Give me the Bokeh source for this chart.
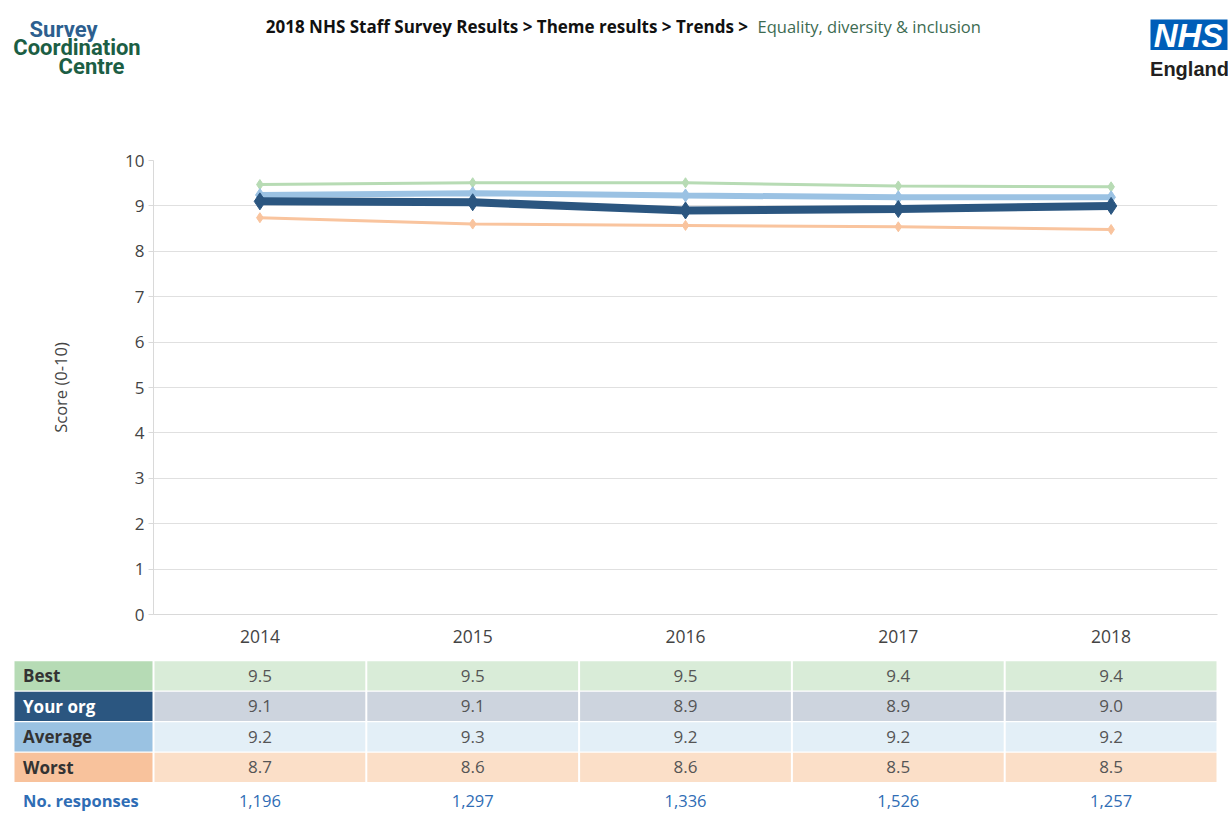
from bokeh.plotting import figure
from bokeh.models import Range1d, FactorRange, FixedTicker, ColumnDataSource
from bokeh.core.properties import value
from bokeh.embed import file_html
from bokeh.resources import INLINE

# ---------------- data ----------------
years = ["2014", "2015", "2016", "2017", "2018"]
best = [9.47, 9.51, 9.51, 9.44, 9.42]
your_org = [9.10, 9.08, 8.90, 8.93, 9.00]
average = [9.24, 9.28, 9.23, 9.19, 9.19]
worst = [8.74, 8.60, 8.57, 8.54, 8.48]
responses = [1196, 1297, 1336, 1526, 1257]
row_names = ["Best", "Your org", "Average", "Worst"]
y_ticks = [0, 1, 2, 3, 4, 5, 6, 7, 8, 9, 10]

FONT = "Open Sans"
W = 1228
H_HDR, H_CHART, H_TAB = 137, 512, 163

# ---------------- header ----------------
hdr = figure(width=W, height=H_HDR, x_range=Range1d(0, W), y_range=Range1d(H_HDR, 0),
             x_axis_type=None, y_axis_type=None, toolbar_location=None,
             output_backend="svg", min_border=0, outline_line_color=None)
hdr.grid.visible = False
logo_kw = dict(text_align="center", text_baseline="middle", text_font=value("Roboto"),
               text_font_style="bold", text_font_size="22px")
hdr.text(x=[63], y=[28.5], text=["Survey"], text_color="#2d5f8f", **logo_kw)
hdr.text(x=[76.5, 91], y=[47, 66], text=["Coordination", "Centre"], text_color="#1c5e44", **logo_kw)
hdr.text(x=[752], y=[26], text=["2018 NHS Staff Survey Results > Theme results > Trends > "],
         text_align="right", text_baseline="middle", text_font=value(FONT),
         text_font_style="bold", text_font_size="17px", text_color="#111111")
hdr.text(x=[757], y=[26], text=["Equality, diversity & inclusion"], text_align="left",
         text_baseline="middle", text_font=value(FONT), text_font_size="16.5px", text_color="#3d6b52")
hdr.quad(left=[1150], right=[1227], top=[19], bottom=[49.5], fill_color="#005eb8", line_color=None)
hdr.text(x=[1188], y=[35], text=["NHS"], text_align="center", text_baseline="middle",
         text_font=value("Liberation Sans"), text_font_style="bold italic", text_font_size="33px",
         text_color="white")
hdr.text(x=[1189], y=[68], text=["England"], text_align="center", text_baseline="middle",
         text_font=value("Liberation Sans"), text_font_style="bold", text_font_size="20px",
         text_color="#231f20")

# ---------------- chart ----------------
p = figure(width=W, height=H_CHART, x_range=FactorRange(*years), y_range=Range1d(0, 10),
           toolbar_location=None, output_backend="svg",
           min_border_left=153, min_border_right=W - 1217, min_border_top=160 - H_HDR,
           min_border_bottom=H_HDR + H_CHART - 614, outline_line_color=None)
p.xgrid.visible = False
p.ygrid.grid_line_color = "#e0e0e0"
p.yaxis.ticker = FixedTicker(ticks=y_ticks)
p.yaxis.axis_label = "Score (0-10)"
p.yaxis.axis_label_text_font = FONT
p.yaxis.axis_label_text_font_style = "normal"
p.yaxis.axis_label_text_font_size = "16.5px"
p.yaxis.axis_label_text_color = "#444444"
p.yaxis.axis_label_standoff = 50
p.yaxis.axis_line_color = "#d9d9d9"
p.yaxis.major_tick_line_color = "#d9d9d9"
p.yaxis.major_tick_out = 5
p.yaxis.major_tick_in = 0
p.yaxis.minor_tick_line_color = None
p.yaxis.major_label_standoff = 4
p.axis.major_label_text_font = FONT
p.axis.major_label_text_font_size = "17px"
p.axis.major_label_text_color = "#444444"
p.xaxis.major_label_text_font_size = "17.5px"
p.xaxis.axis_line_color = "#d9d9d9"
p.xaxis.major_tick_line_color = None
p.xaxis.major_tick_out = 0
p.xaxis.major_label_standoff = 15

series = [
    (best, "#b7dbb4", 3, 10),
    (worst, "#f9c49e", 3, 10),
    (average, "#9bc2e3", 6, 13),
    (your_org, "#2b5680", 8, 17),
]
for vals, col, lw, ms in series:
    p.line(years, vals, line_color=col, line_width=lw)
    p.scatter(years, vals, marker="diamond", size=ms, fill_color=col, line_color=col)

# ---------------- table ----------------
hw = 140 / 212.8
pitch = 30.55
top_px = H_HDR + H_CHART
y0 = 675.3
t = figure(width=W, height=H_TAB, x_range=Range1d(-0.5 - hw, 4.5),
           y_range=Range1d((top_px + H_TAB - y0) / pitch, (top_px - y0) / pitch),
           x_axis_type=None, y_axis_type=None, toolbar_location=None, output_backend="svg",
           min_border_left=13, min_border_right=W - 1217, min_border_top=0, min_border_bottom=0,
           outline_line_color=None)
t.grid.visible = False
head_cols = ["#b6dbb5", "#2b5680", "#9ac2e2", "#f8c29c"]
cell_cols = ["#d9ecd8", "#cdd4de", "#e3eff7", "#fbdfc8"]
lab_cols = ["#333333", "#ffffff", "#333333", "#333333"]
table_vals = [best, your_org, average, worst]
gx = 2.0 / 212.8
gy = 1.3 / pitch
lab_x = -0.5 - hw + 9.5 / 212.8
for r, name in enumerate(row_names):
    t.rect(x=[-0.5 - hw / 2], y=[r], width=hw - gx, height=1 - gy,
           fill_color=head_cols[r], line_color=None)
    t.text(x=[lab_x], y=[r], text=[name], text_align="left", text_baseline="middle",
           text_font=value(FONT), text_font_style="bold", text_font_size="17px",
           text_color=lab_cols[r])
    src = ColumnDataSource(dict(x=list(range(len(years))), y=[r] * len(years),
                                t=[f"{v:.1f}" for v in table_vals[r]]))
    t.rect(x="x", y="y", width=1 - gx, height=1 - gy, fill_color=cell_cols[r],
           line_color=None, source=src)
    t.text(x="x", y="y", text="t", text_align="center", text_baseline="middle",
           text_font=value(FONT), text_font_size="17px", text_color="#555555", source=src)

ry = (800 - y0) / pitch
t.text(x=[lab_x], y=[ry], text=["No. responses"], text_align="left",
       text_baseline="middle", text_font=value(FONT), text_font_style="bold",
       text_font_size="16.5px", text_color="#2f6db5")
t.text(x=list(range(len(years))), y=[ry] * len(years), text=[f"{n:,}" for n in responses],
       text_align="center", text_baseline="middle", text_font=value(FONT),
       text_font_size="16.5px", text_color="#2f6db5")

open("out.html", "w").write(file_html([hdr, p, t], INLINE))
